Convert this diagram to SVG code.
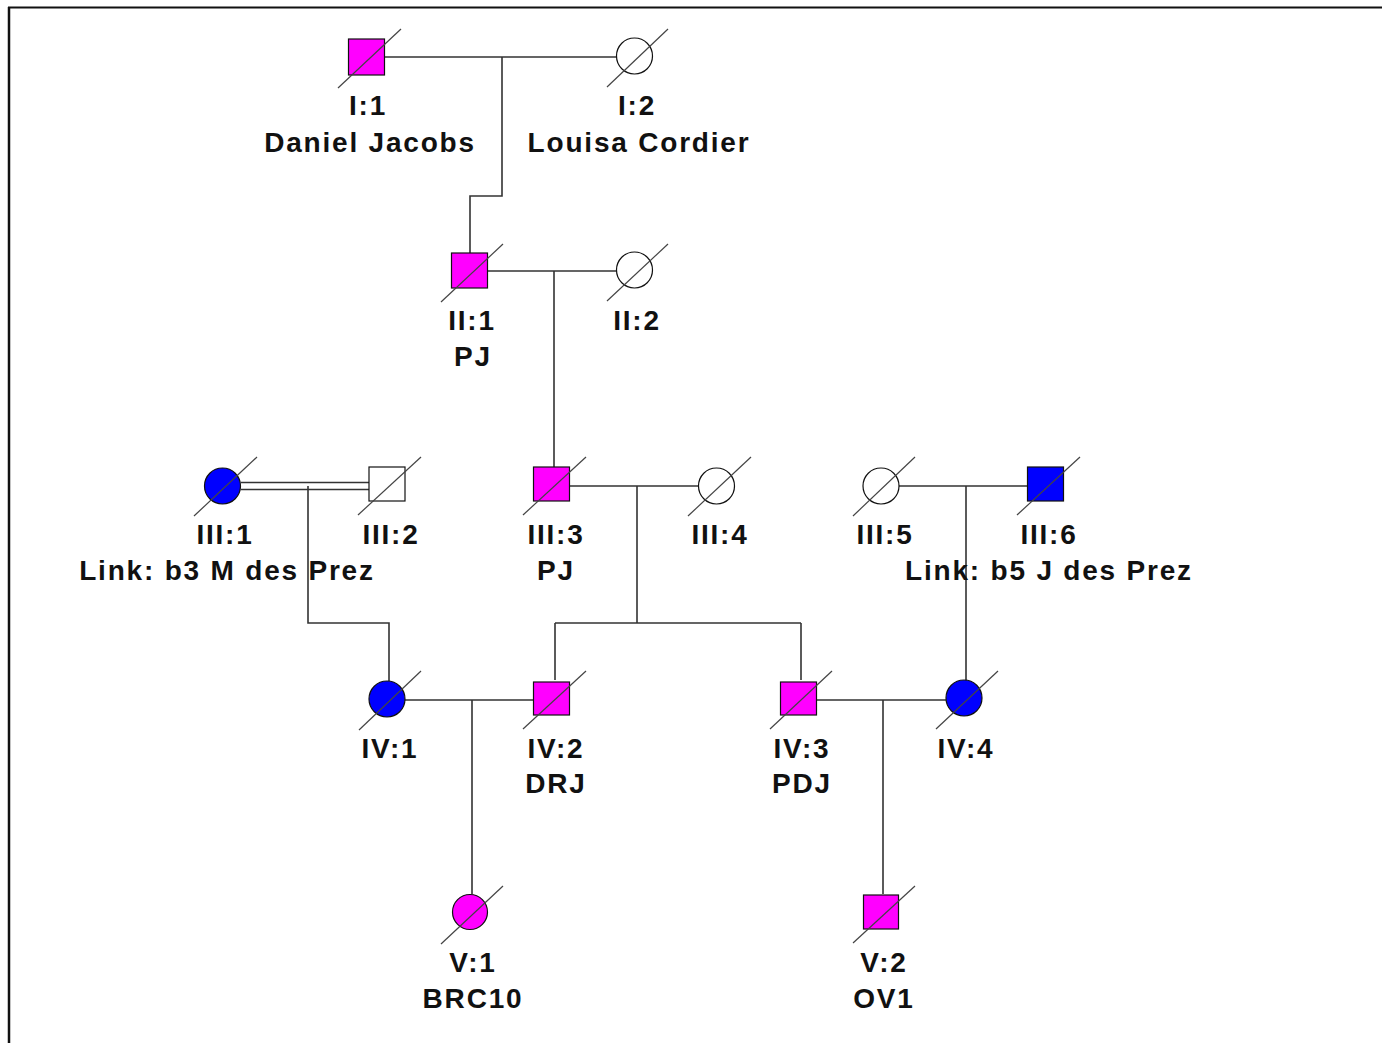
<svg xmlns="http://www.w3.org/2000/svg" width="1382" height="1043" viewBox="0 0 1382 1043">
<defs>
<style>
.ln{stroke:#333;stroke-width:1.6;fill:none}
.sym{stroke:#111;stroke-width:1.2}
.aff{fill:#FF00FF}
.blu{fill:#0000FF}
.unf{fill:#fff}
.sl{stroke:#444;stroke-width:1.2}
text{font-family:"Liberation Sans",Arial,sans-serif;font-weight:bold;font-size:28px;fill:#111;text-anchor:middle;letter-spacing:1.8px}
</style>
</defs>
<rect x="0" y="0" width="1382" height="1043" fill="#fff"/>
<g id="frame">
<line x1="8" y1="7.5" x2="1382" y2="7.5" stroke="#111" stroke-width="2"/>
<line x1="9" y1="7" x2="9" y2="1043" stroke="#111" stroke-width="2.5"/>
</g>
<g id="connectors">
<path class="ln" d="M385 57H616M502 57V196H470V253"/>
<path class="ln" d="M488 271H616M554 271V467"/>
<path class="ln" d="M241 482.5H369M241 489.5H369M308 486V623H389V681"/>
<path class="ln" d="M570 486H698M637 486V623M555 623H801M555 623V680M801 623V680"/>
<path class="ln" d="M899 486H1027M966 486V681"/>
<path class="ln" d="M405 700H533M472 700V894"/>
<path class="ln" d="M817 700H946M883 700V894"/>
</g>
<g id="I1">
<rect class="sym aff" x="348.5" y="39" width="36" height="36"/>
<line class="sl" x1="338" y1="88" x2="401" y2="29"/>
<text x="368" y="115">I:1</text>
<text x="370" y="152">Daniel Jacobs</text>
</g>
<g id="I2">
<circle class="sym unf" cx="634.5" cy="56" r="18"/>
<line class="sl" x1="607" y1="87" x2="668" y2="29"/>
<text x="637" y="115">I:2</text>
<text x="639" y="152">Louisa Cordier</text>
</g>
<g id="II1">
<rect class="sym aff" x="451.5" y="253" width="36" height="35"/>
<line class="sl" x1="441" y1="302" x2="503" y2="244"/>
<text x="472" y="330">II:1</text>
<text x="473" y="366">PJ</text>
</g>
<g id="II2">
<circle class="sym unf" cx="634.5" cy="270" r="18"/>
<line class="sl" x1="607" y1="301" x2="668" y2="244"/>
<text x="637" y="330">II:2</text>
</g>
<g id="III1">
<circle class="sym blu" cx="222.5" cy="486" r="18"/>
<line class="sl" x1="194" y1="516" x2="257" y2="457"/>
<text x="225" y="544">III:1</text>
<text x="227" y="580">Link: b3 M des Prez</text>
</g>
<g id="III2">
<rect class="sym unf" x="369" y="467" width="36" height="34"/>
<line class="sl" x1="358" y1="515" x2="421" y2="457"/>
<text x="391" y="544">III:2</text>
</g>
<g id="III3">
<rect class="sym aff" x="533.5" y="467" width="36" height="34"/>
<line class="sl" x1="523" y1="515" x2="586" y2="457"/>
<text x="556" y="544">III:3</text>
<text x="556" y="580">PJ</text>
</g>
<g id="III4">
<circle class="sym unf" cx="716.5" cy="486" r="18"/>
<line class="sl" x1="688" y1="516" x2="751" y2="457"/>
<text x="720" y="544">III:4</text>
</g>
<g id="III5">
<circle class="sym unf" cx="881" cy="486" r="18"/>
<line class="sl" x1="853" y1="516" x2="915" y2="457"/>
<text x="885" y="544">III:5</text>
</g>
<g id="III6">
<rect class="sym blu" x="1027.5" y="467" width="36" height="34"/>
<line class="sl" x1="1017" y1="515" x2="1080" y2="457"/>
<text x="1049" y="544">III:6</text>
<text x="1049" y="580">Link: b5 J des Prez</text>
</g>
<g id="IV1">
<circle class="sym blu" cx="387" cy="699" r="18"/>
<line class="sl" x1="359" y1="730" x2="421" y2="671"/>
<text x="390" y="758">IV:1</text>
</g>
<g id="IV2">
<rect class="sym aff" x="533.5" y="682" width="36" height="33"/>
<line class="sl" x1="523" y1="729" x2="586" y2="671"/>
<text x="556" y="758">IV:2</text>
<text x="556" y="793">DRJ</text>
</g>
<g id="IV3">
<rect class="sym aff" x="780.5" y="682" width="36" height="33"/>
<line class="sl" x1="770" y1="729" x2="832" y2="671"/>
<text x="802" y="758">IV:3</text>
<text x="802" y="793">PDJ</text>
</g>
<g id="IV4">
<circle class="sym blu" cx="964" cy="698" r="18"/>
<line class="sl" x1="936" y1="729" x2="998" y2="671"/>
<text x="966" y="758">IV:4</text>
</g>
<g id="V1">
<circle class="sym aff" cx="470" cy="912" r="17.5"/>
<line class="sl" x1="441" y1="944" x2="503" y2="886"/>
<text x="473" y="972">V:1</text>
<text x="473" y="1008">BRC10</text>
</g>
<g id="V2">
<rect class="sym aff" x="863.5" y="895" width="35" height="34"/>
<line class="sl" x1="853" y1="943" x2="915" y2="886"/>
<text x="884" y="972">V:2</text>
<text x="884" y="1008">OV1</text>
</g>
</svg>
